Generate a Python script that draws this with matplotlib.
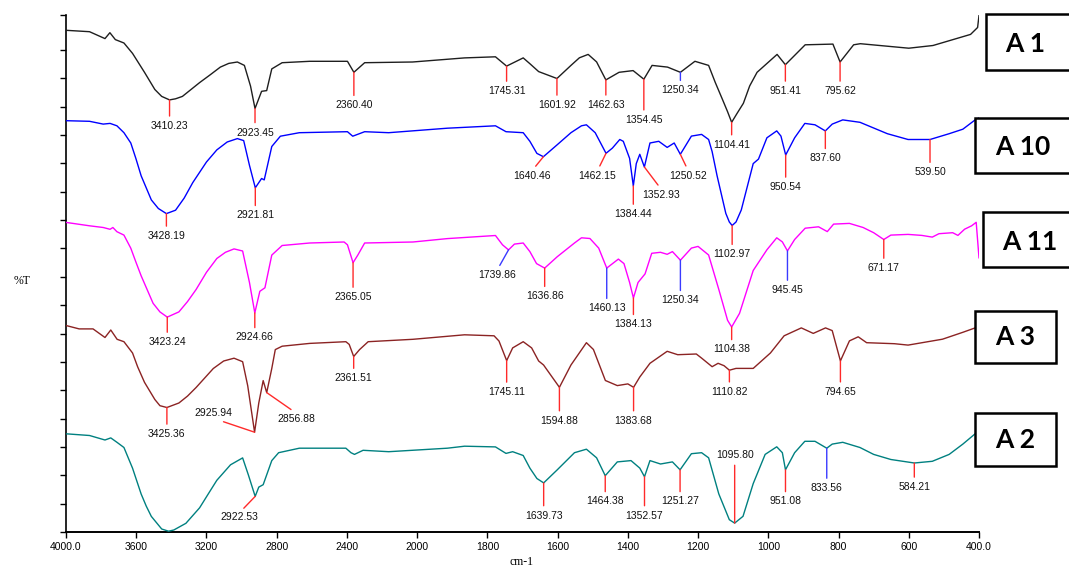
import numpy as np
import matplotlib
matplotlib.use('Agg')
import matplotlib.pyplot as plt
from matplotlib.patches import Rectangle

# ---------------- data (wavenumber cm-1, %T with vertical offset) ----------------
a1_wn = [4000, 3866, 3778, 3750, 3719, 3670, 3621, 3553, 3494, 3455, 3410.23, 3376, 3337, 3239, 3181, 3121,
         3073, 3024, 2984, 2949, 2923.45, 2886, 2857, 2828, 2769, 2612, 2397, 2360.40, 2299, 2026, 1865,
         1777, 1745.31, 1698, 1679, 1654, 1601.92, 1562, 1538, 1513, 1489, 1462.63, 1425, 1385, 1354.45,
         1331, 1287, 1250.34, 1209, 1170, 1151, 1130, 1116, 1104.41, 1089, 1071, 1053, 1032, 975, 951.41,
         895, 816, 795.62, 757, 738, 600, 531, 424, 404, 400]
a1_t = [501.7, 500.3, 493.4, 499.3, 492.4, 489.0, 478.6, 459.7, 442.5, 435.6, 432.1, 433.2, 435.6, 449.4, 456.9, 464.9,
        468.6, 470.0, 466.6, 445.9, 423.5, 440.7, 441.4, 463.1, 469.3, 470.7, 470.7, 459.7, 469.3, 470.0, 474.1,
        475.2, 465.9, 474.1, 468.3, 460.4, 453.5, 466.6, 474.2, 477.6, 470.1, 452.1, 459.7, 461.4, 452.8,
        466.6, 464.9, 459.7, 470.7, 466.6, 449.5, 432.1, 420.3, 409.7, 418.6, 428.7, 446.1, 459.7, 477.6, 467.3,
        487.2, 487.9, 470.0, 487.2, 488.3, 483.8, 486.5, 497.6, 504.5, 516.5]
a1_peaks = [3410.23, 2923.45, 2360.40, 1745.31, 1601.92, 1462.63, 1354.45, 1250.34, 1104.41, 951.41, 795.62]

a10_wn = [4000, 3866, 3788, 3749, 3710, 3670, 3631, 3602, 3572, 3514, 3474, 3428.19, 3376, 3327, 3278, 3200,
          3141, 3082, 3024, 2988, 2955, 2921.81, 2886, 2871, 2828, 2779, 2671, 2397, 2367, 2299, 2162, 1914,
          1777, 1747, 1698, 1679, 1659, 1640.46, 1601, 1562, 1532, 1518, 1493, 1462.15, 1444, 1423, 1413,
          1395, 1384.44, 1376, 1366, 1352.93, 1337, 1312, 1288, 1268, 1250.52, 1219, 1190, 1170, 1160, 1146,
          1121, 1111, 1102.97, 1092, 1077, 1043, 1028, 1004, 976, 964, 950.54, 925, 896, 867, 837.60, 818,
          788, 739, 661, 602, 539.50, 485, 446, 411, 400]
a10_t = [411.3, 410.7, 407.9, 408.6, 406.2, 399.3, 389.0, 373.5, 356.2, 332.1, 323.5, 318.4, 321.8, 333.9, 349.4, 370.0,
         382.1, 390.0, 393.4, 391.4, 366.6, 344.2, 353.5, 352.1, 385.5, 395.8, 399.3, 400.3, 395.8, 400.3, 399.3, 403.8,
         406.2, 400.3, 399.3, 390.7, 378.6, 375.3, 387.3, 399.3, 406.2, 407.2, 399.3, 378.7, 383.9, 392.5, 390.7,
         373.6, 346.1, 368.4, 377.7, 365.0, 389.0, 390.7, 384.6, 389.0, 377.7, 395.9, 397.6, 392.5, 380.4, 356.4,
         318.6, 310.0, 306.5, 310.0, 322.0, 368.4, 372.9, 394.2, 401.1, 395.9, 377.0, 394.2, 408.6, 407.2, 401.1, 407.9,
         412.1, 409.7, 398.3, 392.5, 392.5, 398.3, 402.8, 412.1, 414.0]
a10_peaks = [3428.19, 2921.81, 1640.46, 1462.15, 1384.44, 1352.93, 1250.52, 1102.97, 950.54, 837.60, 539.50]

a11_wn = [4000, 3866, 3788, 3749, 3733, 3710, 3670, 3631, 3602, 3572, 3504, 3465, 3423.24, 3357, 3308, 3259,
          3200, 3141, 3092, 3043, 2994, 2955, 2924.66, 2896, 2867, 2828, 2769, 2612, 2416, 2397, 2365.05, 2338,
          2299, 2024, 1914, 1777, 1757, 1739.86, 1723, 1698, 1679, 1660, 1636.86, 1601, 1552, 1532, 1508,
          1483, 1460.13, 1427, 1411, 1395, 1384.13, 1371, 1351, 1332, 1307, 1288, 1273, 1250.34, 1219, 1200,
          1170, 1141, 1116, 1104.38, 1082, 1043, 1004, 976, 960, 945.45, 925, 895, 857, 832, 814, 769, 730,
          700, 671.17, 651, 602, 563, 533, 514, 475, 460, 441, 421, 408, 400]
a11_t = [309.6, 306.2, 304.5, 302.7, 304.5, 300.3, 296.9, 283.8, 270.0, 256.2, 228.7, 220.1, 214.9, 220.1, 230.4, 242.5,
         259.7, 273.5, 279.7, 283.1, 281.0, 249.4, 219.1, 240.7, 244.2, 276.9, 286.5, 289.0, 290.0, 287.2, 269.3, 276.9,
         289.0, 290.0, 293.4, 296.5, 287.2, 282.1, 287.9, 289.0, 280.4, 268.4, 263.9, 275.3, 289.0, 294.2, 293.5,
         283.9, 263.9, 272.9, 268.4, 249.5, 234.0, 249.5, 258.1, 278.7, 279.7, 277.7, 280.4, 271.8, 283.9, 285.6,
         277.0, 242.6, 211.7, 205.0, 218.6, 261.5, 282.2, 294.2, 290.1, 281.1, 292.5, 303.8, 305.2, 300.4, 307.9, 308.6, 304.5,
         299.3, 292.5, 296.9, 297.6, 296.6, 294.9, 298.3, 299.3, 296.6, 302.8, 306.2, 309.7, 274.2]
a11_peaks = [3423.24, 2924.66, 2365.05, 1739.86, 1636.86, 1460.13, 1384.13, 1250.34, 1104.38, 945.45, 671.17]

a3_wn = [4000, 3925, 3846, 3778, 3745, 3709, 3670, 3621, 3592, 3553, 3494, 3465, 3425.36, 3357, 3308, 3259,
         3161, 3102, 3043, 2994, 2965, 2925.94, 2902, 2877, 2856.88, 2828, 2808, 2769, 2612, 2406, 2387,
         2361.51, 2328, 2279, 2024, 1865, 1781, 1767, 1745.11, 1728, 1698, 1674, 1654, 1640, 1594.88, 1562,
         1518, 1498, 1464, 1430, 1400, 1383.68, 1366, 1337, 1288, 1258, 1205, 1190, 1160, 1143, 1126,
         1110.82, 1092, 1043, 994, 955, 906, 872, 837, 818, 794.65, 769, 744, 720, 641, 602, 504, 446, 411, 400]
a3_t = [206.5, 203.1, 203.1, 194.5, 202.0, 192.7, 190.3, 179.0, 165.2, 149.7, 132.5, 126.3, 124.5, 129.0, 135.9, 144.5,
        163.5, 171.0, 173.8, 170.3, 146.2, 99.8, 129.0, 151.4, 139.4, 163.5, 182.4, 185.8, 188.6, 190.3, 187.6,
        175.5, 182.4, 190.3, 192.7, 197.2, 196.2, 191.0, 171.4, 184.1, 190.3, 184.1, 171.0, 167.0, 144.7, 167.0,
        189.3, 182.5, 151.5, 146.4, 148.1, 144.7, 155.0, 168.7, 180.7, 177.3, 178.0, 173.9, 165.3, 168.7, 166.3,
        161.8, 163.6, 163.6, 179.0, 196.2, 204.1, 198.6, 204.1, 201.4, 171.1, 191.1, 195.2, 189.3, 188.3, 186.9,
        192.8, 199.7, 204.1, 205.0]
a3_peaks = [3425.36, 2925.94, 2856.88, 2361.51, 1745.11, 1594.88, 1383.68, 1110.82, 794.65]

a2_wn = [4000, 3866, 3778, 3745, 3709, 3670, 3621, 3572, 3543, 3514, 3455, 3416, 3386, 3317, 3239, 3190,
         3141, 3063, 2994, 2961, 2922.53, 2902, 2877, 2828, 2789, 2671, 2406, 2377, 2357, 2308, 2162, 1914,
         1865, 1777, 1747, 1728, 1698, 1679, 1659, 1639.73, 1601, 1552, 1518, 1489, 1464.38, 1430, 1391,
         1366, 1352.57, 1337, 1307, 1273, 1251.27, 1219, 1190, 1170, 1141, 1111, 1095.80, 1072, 1043, 1009,
         976, 960, 951.08, 925, 896, 867, 833.56, 818, 788, 739, 700, 651, 584.21, 533, 485, 446, 411, 400]
a2_t = [98.2, 96.5, 92.0, 94.1, 89.6, 84.5, 63.8, 38.0, 25.9, 15.6, 3.0, 0.8, 2.0, 8.7, 24.2, 38.0,
        51.7, 67.2, 74.1, 56.9, 35.6, 44.9, 47.3, 71.4, 79.3, 83.8, 83.8, 79.3, 77.6, 81.7, 80.3, 83.8,
        85.8, 85.1, 78.6, 80.3, 76.5, 63.9, 53.5, 49.1, 62.2, 79.3, 82.8, 74.2, 56.3, 70.1, 71.4,
        63.9, 55.3, 71.4, 68.0, 70.1, 62.2, 78.3, 79.3, 74.2, 38.1, 12.3, 8.9, 15.7, 48.4, 77.6,
        85.2, 79.3, 62.2, 79.3, 90.7, 90.7, 83.8, 87.9, 89.7, 84.5, 77.6, 72.5, 69.0, 70.7, 77.6, 87.9, 98.2, 101.0]
a2_peaks = [2922.53, 1639.73, 1464.38, 1352.57, 1251.27, 1095.80, 951.08, 833.56, 584.21]

sample_names = ['A 1', 'A 10', 'A 11', 'A 3', 'A 2']
x_tick_values = [4000, 3600, 3200, 2800, 2400, 2000, 1800, 1600, 1400, 1200, 1000, 800, 600, 400]
x_tick_labels = ['4000.0', '3600', '3200', '2800', '2400', '2000', '1800', '1600', '1400', '1200',
                 '1000', '800', '600', '400.0']

# ---------------- layout / style ----------------
RED = '#ff2a2a'
BLU = '#3a3aff'
curve_colors = ['#1e1e1e', '#0000ff', '#ff00ff', '#8b2323', '#008080']
# label offsets (pixels) relative to the peak point, and marker colors
a1_off = [(0, -26), (0, -24), (0, -33), (0, -25), (0, -26.5), (0, -25), (0, -40.6), (0, -18), (0, -22.4),
          (0, -26.3), (0, -29)]
a1_col = [RED] * 7 + [BLU] + [RED] * 3
a10_off = [(0, -22.4), (0, -27.6), (-11.3, -18.9), (-8.5, -22.3), (0, -28.2), (17, -27.5), (7.8, -21.3),
           (0, -28.8), (0, -32), (0, -27.5), (0, -32.7)]
a10_col = [RED] * 11
a11_off = [(0, -25), (0, -24.6), (0, -34.4), (-11.3, -25.1), (0, -28.2), (0, -40.2), (0, -26.4), (0, -40.2),
           (0, -22.5), (0, -39.2), (0, -28.6)]
a11_col = [RED, RED, RED, BLU, RED, BLU, RED, BLU, RED, BLU, RED]
a3_off = [(0, -26.5), (-41.3, 18.9), (30, -25.9), (0, -21.7), (0, -31.4), (0, -33.4), (0, -33.4),
          (0, -21.6), (0, -30.9)]
a3_col = [RED] * 9
a2_off = [(-15.5, -21.1), (0, -32.7), (0, -25.8), (0, -38.9), (0, -31.7), (0, 67.7), (0, -31.7),
          (0, -39.9), (0, -24)]
a2_col = [RED] * 7 + [BLU, RED]

# figure-pixel boxes for the sample names: (x0, y_top, x1, y_bottom), text centre
name_boxes = [(985.5, 14.4, 1075, 69.8), (975.2, 117.9, 1075, 172.9), (983, 212, 1075, 267),
              (975.2, 311, 1056, 363.3), (975.2, 413, 1056, 465.7)]
name_text_pos = [(1025, 44), (1023, 147), (1030, 242), (1015, 337), (1015, 440)]


def fwd(x):
    x = np.asarray(x, dtype=float)
    return np.where(x > 2000, 2000 + (x - 2000) / 2.0, x)


def inv(u):
    u = np.asarray(u, dtype=float)
    return np.where(u > 2000, 2000 + (u - 2000) * 2.0, u)


W, H = 1069, 567
fig = plt.figure(figsize=(W / 100, H / 100), dpi=100)
fig.patch.set_facecolor('white')
ax = fig.add_axes([66 / W, 35 / H, (979 - 66) / W, (532 - 14.5) / H])
ax.set_xscale('function', functions=(fwd, inv))
ax.set_xlim(4000, 400)
ax.set_ylim(0, 517.5)

label_font = dict(family='Liberation Sans', size=7.5, color='#111111')

series = [
    (a1_wn, a1_t, a1_peaks, a1_off, a1_col),
    (a10_wn, a10_t, a10_peaks, a10_off, a10_col),
    (a11_wn, a11_t, a11_peaks, a11_off, a11_col),
    (a3_wn, a3_t, a3_peaks, a3_off, a3_col),
    (a2_wn, a2_t, a2_peaks, a2_off, a2_col),
]

for (wn, t, peaks, offs, cols), c in zip(series, curve_colors):
    wn = np.asarray(wn, dtype=float)
    t = np.asarray(t, dtype=float)
    ax.plot(wn, t, color=c, lw=1.0, solid_joinstyle='round', zorder=3)
    for p, (dx, dy), mc in zip(peaks, offs, cols):
        yv = np.interp(p, wn[::-1], t[::-1])
        rel = (0.5, 0.0) if dy > 0 else (0.5, 1.0)
        ax.annotate(f'{p:.2f}', xy=(p, yv), xycoords='data', xytext=(dx, dy),
                    textcoords='offset pixels', ha='center', va='center', annotation_clip=False,
                    arrowprops=dict(arrowstyle='-', color=mc, lw=1.0, shrinkA=1.5, shrinkB=0,
                                    relpos=rel),
                    zorder=4, **label_font)

# axes styling
for s in ['top', 'right']:
    ax.spines[s].set_visible(False)
ax.spines['left'].set_linewidth(1.2)
ax.spines['bottom'].set_linewidth(1.4)
ax.set_xticks(x_tick_values)
ax.set_xticklabels(x_tick_labels)
ax.tick_params(axis='x', direction='out', length=4, width=1, pad=3, labelsize=7.5)
for lab in ax.get_xticklabels():
    lab.set_family('Liberation Sans')
ax.set_yticks(list(np.linspace(0, 482, 18)) + [517.5])
ax.tick_params(axis='y', direction='out', length=4, width=1, labelleft=False)
ax.xaxis.set_minor_locator(matplotlib.ticker.NullLocator())

fig.text(22 / W, 1 - 281 / H, '%T', ha='center', va='center', family='Liberation Serif', size=8.5)
fig.text(522 / W, 1 - 562 / H, 'cm-1', ha='center', va='center', family='Liberation Serif', size=8.5)

for (x0, y0, x1, y1), (tx, ty), name in zip(name_boxes, name_text_pos, sample_names):
    fig.add_artist(Rectangle((x0 / W, 1 - y1 / H), (x1 - x0) / W, (y1 - y0) / H,
                             transform=fig.transFigure, fill=True, facecolor='white',
                             edgecolor='black', lw=1.8, zorder=5))
    fig.text(tx / W, 1 - ty / H, name, ha='center', va='center', family='Lato',
             weight='bold', size=19, zorder=6)

fig.savefig('out.png', dpi=100, facecolor='white')
